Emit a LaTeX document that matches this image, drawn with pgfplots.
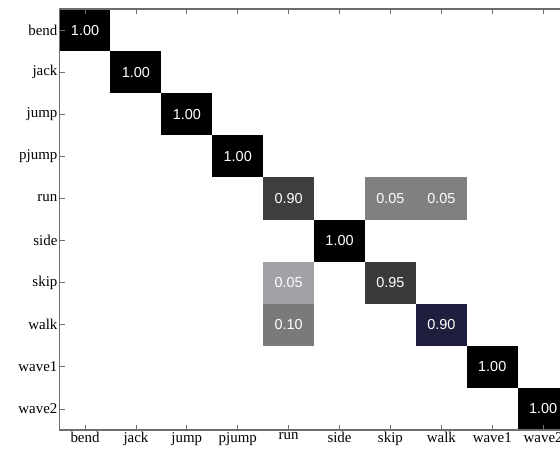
\documentclass[border=0pt]{standalone}
\usepackage{pgfplots}
\pgfplotsset{compat=1.18}
\usepackage{fontspec}
\setmainfont{Liberation Serif}
\newfontfamily\cellfont{Liberation Sans}
\definecolor{cA}{RGB}{62,62,62}
\definecolor{cB}{RGB}{128,128,128}
\definecolor{cC}{RGB}{162,162,166}
\definecolor{cD}{RGB}{122,122,122}
\definecolor{cE}{RGB}{58,58,58}
\definecolor{cF}{RGB}{30,30,62}
\definecolor{axc}{RGB}{110,110,110}
\begin{document}
\begin{tikzpicture}
\useasboundingbox (-59.6bp,-20bp) rectangle (500.4bp,430bp);
\clip (-59.6bp,-20bp) rectangle (500.4bp,430bp);
\begin{axis}[
  at={(0,0)}, anchor=south west,
  scale only axis, width=509bp, height=421bp,
  xmin=-0.5, xmax=9.5, ymin=-0.5, ymax=9.5,
  y dir=reverse,
  xtick={0,...,9}, ytick={0,...,9},
  xticklabels={bend,jack,jump,pjump,run,side,skip,walk,wave1,wave2},
  yticklabels={bend,jack,jump,pjump,run,side,skip,walk,wave1,wave2},
  tick label style={font=\fontsize{15}{16}\selectfont, black},
  xticklabel style={inner sep=1pt, yshift=-1pt},
  yticklabel style={inner sep=2pt},
  xtick pos=both, ytick pos=both, tick align=inside,
  major tick length=5bp,
  major tick style={axc, line width=0.8pt},
  axis line style={axc, line width=1.2pt},
  axis on top,
]
\addplot[fill=black, draw=none] coordinates {(-0.5,-0.5) (0.5,-0.5) (0.5,0.5) (-0.5,0.5)};
\addplot[fill=black, draw=none] coordinates {(0.5,0.5) (1.5,0.5) (1.5,1.5) (0.5,1.5)};
\addplot[fill=black, draw=none] coordinates {(1.5,1.5) (2.5,1.5) (2.5,2.5) (1.5,2.5)};
\addplot[fill=black, draw=none] coordinates {(2.5,2.5) (3.5,2.5) (3.5,3.5) (2.5,3.5)};
\addplot[fill=cA, draw=none] coordinates {(3.5,3.5) (4.5,3.5) (4.5,4.5) (3.5,4.5)};
\addplot[fill=cB, draw=none] coordinates {(5.5,3.5) (6.5,3.5) (6.5,4.5) (5.5,4.5)};
\addplot[fill=cB, draw=none] coordinates {(6.5,3.5) (7.5,3.5) (7.5,4.5) (6.5,4.5)};
\addplot[fill=black, draw=none] coordinates {(4.5,4.5) (5.5,4.5) (5.5,5.5) (4.5,5.5)};
\addplot[fill=cC, draw=none] coordinates {(3.5,5.5) (4.5,5.5) (4.5,6.5) (3.5,6.5)};
\addplot[fill=cE, draw=none] coordinates {(5.5,5.5) (6.5,5.5) (6.5,6.5) (5.5,6.5)};
\addplot[fill=cD, draw=none] coordinates {(3.5,6.5) (4.5,6.5) (4.5,7.5) (3.5,7.5)};
\addplot[fill=cF, draw=none] coordinates {(6.5,6.5) (7.5,6.5) (7.5,7.5) (6.5,7.5)};
\addplot[fill=black, draw=none] coordinates {(7.5,7.5) (8.5,7.5) (8.5,8.5) (7.5,8.5)};
\addplot[fill=black, draw=none] coordinates {(8.5,8.5) (9.5,8.5) (9.5,9.5) (8.5,9.5)};
\addplot[draw=none, mark=none, nodes near coords, point meta=explicit symbolic,
  nodes near coords align=center,
  every node near coord/.append style={white, anchor=center, font=\cellfont\fontsize{14.5}{16}\selectfont}]
  table[meta=label] {
x y label
0 0 1.00
1 1 1.00
2 2 1.00
3 3 1.00
4 4 0.90
6 4 0.05
7 4 0.05
5 5 1.00
4 6 0.05
6 6 0.95
4 7 0.10
7 7 0.90
8 8 1.00
9 9 1.00
};
\end{axis}
\end{tikzpicture}
\end{document}
